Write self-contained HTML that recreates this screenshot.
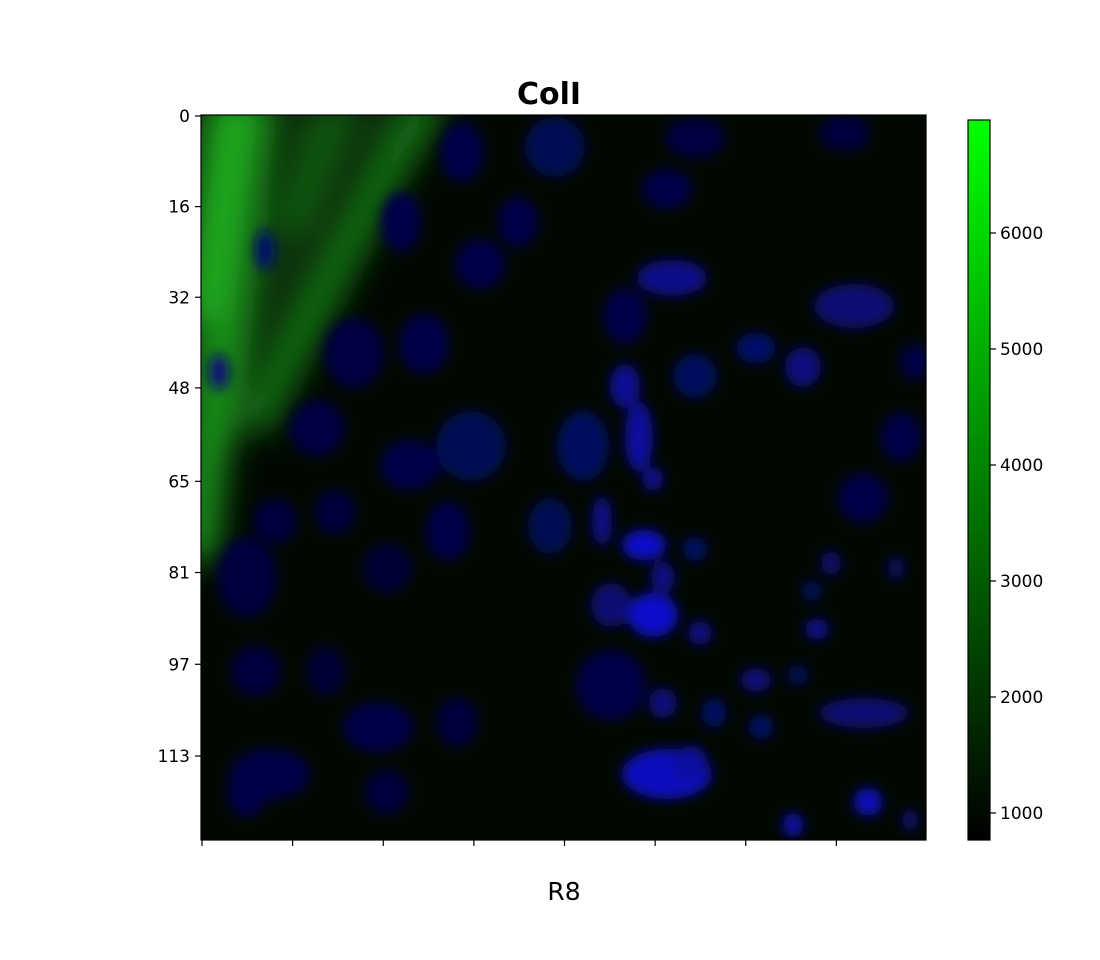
<!DOCTYPE html>
<html><head><meta charset="utf-8"><style>
body{margin:0;background:#fff;}
svg{display:block;font-family:"DejaVu Sans","Liberation Sans",sans-serif;}
</style></head><body>
<svg width="1100" height="960" viewBox="0 0 1100 960">
<defs>
<filter id="bl" filterUnits="userSpaceOnUse" x="100" y="0" width="950" height="960"><feGaussianBlur stdDeviation="6"/></filter>
<filter id="bg" filterUnits="userSpaceOnUse" x="100" y="0" width="950" height="960"><feGaussianBlur stdDeviation="16"/></filter>
<clipPath id="ic"><rect x="201" y="115" width="725" height="725"/></clipPath>
<linearGradient id="cb" x1="0" y1="1" x2="0" y2="0"><stop offset="0" stop-color="#000"/><stop offset="1" stop-color="#00ff00"/></linearGradient>
</defs>
<text x="549" y="104" text-anchor="middle" font-size="30" font-weight="bold">ColI</text>
<g clip-path="url(#ic)">
<rect x="201" y="115" width="725" height="725" fill="#010801"/>
<g filter="url(#bg)">
<polygon points="180,100 455,100 395,190 330,270 270,370 225,460 180,560" fill="#0a300a"/>
<line x1="250" y1="95" x2="198" y2="560" stroke="#1c961c" stroke-width="34"/>
<line x1="232" y1="95" x2="200" y2="320" stroke="#22bb22" stroke-width="22"/>
<line x1="430" y1="100" x2="255" y2="430" stroke="#167816" stroke-width="26"/>
<line x1="340" y1="100" x2="290" y2="230" stroke="#126812" stroke-width="20"/>
</g>
<g id="blobs" filter="url(#bl)"></g>
</g>
<rect x="201" y="115" width="725" height="725" fill="none" stroke="#000" stroke-width="1.2"/>
<g id="yax"></g>
<g id="xax"></g>
<text x="564" y="900" text-anchor="middle" font-size="25">R8</text>
<rect x="968" y="120" width="22" height="720" fill="url(#cb)" stroke="#000" stroke-width="1.2"/>
<g id="cax"></g>
</svg>
<script>
const yTickLabels=["0","16","32","48","65","81","97","113"];
const yTickVals=[0,16,32,48,64.5,80.6,96.8,113];
const xTickVals=[0,16,32,48,64,80,96,112];
const cbTicks=[1000,2000,3000,4000,5000,6000];
const cbMin=767, cbMax=6974;
const blobX=[462,555,695,667,845,401,518,480,265,219,354,424,672,625,854,756,803,695,625,915,317,471,410,583,639,653,901,863,275,335,448,550,602,644,695,663,831,896,247,387,653,611,700,817,812,256,326,611,663,756,798,864,714,761,378,457,270,667,690,868,793,387,910,247];
const blobY=[152,147,138,189,133,222,222,264,250,372,353,344,278,316,306,348,367,376,386,362,428,446,465,446,437,479,437,498,521,512,531,526,521,545,549,577,563,568,577,568,615,605,633,629,591,671,671,685,703,680,675,713,713,727,727,722,774,774,764,802,825,792,820,792];
const blobRX=[22,30,30,25,25,20,20,25,10,10,30,25,35,22,40,20,18,22,15,15,28,35,30,26,14,10,20,25,22,20,22,22,10,22,12,12,10,8,30,25,25,20,12,12,10,25,20,35,14,15,10,45,12,12,35,20,40,45,18,14,10,22,8,20];
const blobRY=[30,30,20,20,18,30,25,25,20,18,35,30,18,28,22,15,20,22,22,18,28,35,25,35,35,12,25,25,22,22,30,28,25,15,12,15,12,10,40,25,22,22,12,10,10,25,25,35,15,12,10,15,15,12,25,25,25,25,18,14,12,22,10,25];
const blobI=[0.25,0.3,0.22,0.25,0.2,0.25,0.25,0.25,0.4,0.45,0.22,0.25,0.55,0.25,0.45,0.4,0.5,0.35,0.6,0.25,0.22,0.3,0.25,0.35,0.65,0.6,0.25,0.25,0.2,0.2,0.25,0.3,0.55,0.85,0.4,0.55,0.45,0.45,0.2,0.15,0.85,0.45,0.55,0.6,0.35,0.2,0.15,0.25,0.5,0.5,0.35,0.45,0.4,0.4,0.25,0.2,0.25,0.8,0.65,0.8,0.75,0.2,0.45,0.25];
const NS="http://www.w3.org/2000/svg";
const px=v=>202+v*(725/128), py=v=>116+v*(725/128);
const cy=v=>840-(v-cbMin)/(cbMax-cbMin)*720;
function mk(t,a,p){const e=document.createElementNS(NS,t);for(const k in a)e.setAttribute(k,a[k]);p.appendChild(e);return e;}
const bg=document.getElementById('blobs');
blobX.forEach((x,i)=>{const b=Math.round(20+blobI[i]*215);
 const e=mk('ellipse',{cx:x,cy:blobY[i],rx:blobRX[i],ry:blobRY[i],fill:`rgb(${Math.round(b*0.06)},${Math.round(b*0.08)},${b})`},bg);
 
 });
const ya=document.getElementById('yax');
yTickVals.forEach((v,i)=>{const y=py(v);
 mk('line',{x1:195,x2:201,y1:y,y2:y,stroke:'#000','stroke-width':1.2},ya);
 const t=mk('text',{x:190,y:y+6,'text-anchor':'end','font-size':17},ya);t.textContent=yTickLabels[i];
 
 });
const xa=document.getElementById('xax');
xTickVals.forEach(v=>{const x=px(v);const l=mk('line',{x1:x,x2:x,y1:840,y2:846,stroke:'#000','stroke-width':1.2},xa);
 
 });
const ca=document.getElementById('cax');
cbTicks.forEach(v=>{const y=cy(v);
 mk('line',{x1:990,x2:996,y1:y,y2:y,stroke:'#000','stroke-width':1.2},ca);
 const t=mk('text',{x:1000,y:y+6,'font-size':17},ca);t.textContent=v;
 
 });
</script>
</body></html>
